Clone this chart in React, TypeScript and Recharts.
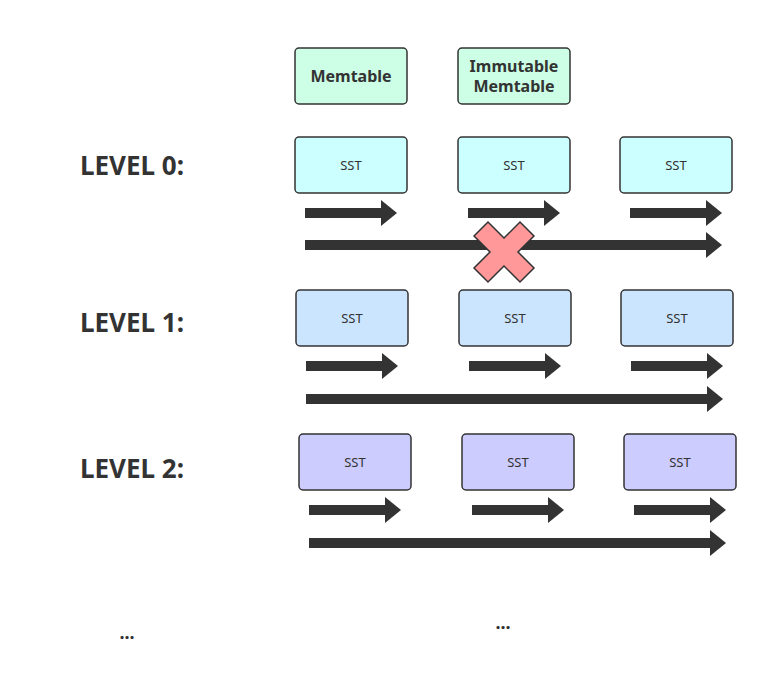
import React from 'react'
import { ComposedChart, XAxis, YAxis, ReferenceArea, ReferenceLine, ReferenceDot, Scatter } from 'recharts'

const W = 767
const H = 680
const INK = '#333333'

const levels = [
  { label: 'LEVEL 0:', y: 165 },
  { label: 'LEVEL 1:', y: 322 },
  { label: 'LEVEL 2:', y: 468 },
]

// boxes: label, left, right, top, bottom, fill, bold
const boxes = [
  { text: 'Memtable', x1: 295, x2: 407, y1: 48, y2: 104, fill: '#ccffe6', bold: true },
  { text: 'Immutable\nMemtable', x1: 458, x2: 570, y1: 48, y2: 104, fill: '#ccffe6', bold: true },
  { text: 'SST', x1: 295, x2: 407, y1: 137, y2: 193, fill: '#ccffff', bold: false },
  { text: 'SST', x1: 458, x2: 570, y1: 137, y2: 193, fill: '#ccffff', bold: false },
  { text: 'SST', x1: 620, x2: 732, y1: 137, y2: 193, fill: '#ccffff', bold: false },
  { text: 'SST', x1: 296, x2: 408, y1: 290, y2: 346, fill: '#cce5ff', bold: false },
  { text: 'SST', x1: 459, x2: 571, y1: 290, y2: 346, fill: '#cce5ff', bold: false },
  { text: 'SST', x1: 621, x2: 733, y1: 290, y2: 346, fill: '#cce5ff', bold: false },
  { text: 'SST', x1: 299, x2: 411, y1: 434, y2: 490, fill: '#ccccff', bold: false },
  { text: 'SST', x1: 462, x2: 574, y1: 434, y2: 490, fill: '#ccccff', bold: false },
  { text: 'SST', x1: 624, x2: 736, y1: 434, y2: 490, fill: '#ccccff', bold: false },
]

// arrows: start x, end x (tip), y
const arrows = [
  { x1: 305, x2: 397, y: 213 }, { x1: 468, x2: 560, y: 213 }, { x1: 630, x2: 722, y: 213 },
  { x1: 305, x2: 722, y: 245 },
  { x1: 306, x2: 398, y: 366 }, { x1: 469, x2: 561, y: 366 }, { x1: 631, x2: 723, y: 366 },
  { x1: 306, x2: 723, y: 399 },
  { x1: 309, x2: 401, y: 510 }, { x1: 472, x2: 564, y: 510 }, { x1: 634, x2: 726, y: 510 },
  { x1: 309, x2: 726, y: 543 },
]

const ellipses = [
  { x: 127, y: 632 },
  { x: 503, y: 622 },
]

const cross = { x: 504, y: 252 }

const HEAD = 16

function BoxShape(props: any, b: any) {
  const { x, y, width, height } = props
  const lines = b.text.split('\n')
  const cx = x + width / 2
  const cy = y + height / 2
  const lh = 20
  return (
    <g>
      <rect x={x} y={y} width={width} height={height} rx={4} fill={b.fill} stroke={INK} strokeWidth={1.5} />
      {lines.map((l: string, i: number) => (
        <text
          key={i}
          x={cx}
          y={cy + (i - (lines.length - 1) / 2) * lh}
          textAnchor="middle"
          dominantBaseline="central"
          fontFamily="'Noto Sans', sans-serif"
          fontWeight={b.bold ? 700 : 400}
          fontSize={b.bold ? 16 : 13}
          fill={INK}
        >
          {l}
        </text>
      ))}
    </g>
  )
}

function ArrowHead(props: any) {
  const { cx, cy } = props
  return <polygon points={`${cx},${cy} ${cx - HEAD},${cy - 13} ${cx - HEAD},${cy + 13}`} fill={INK} />
}

function CrossShape(props: any) {
  const { cx, cy } = props
  const s = 30
  const w = 14
  const pts = [
    [-s, -s + w], [-s + w, -s], [0, -w], [s - w, -s], [s, -s + w], [w, 0],
    [s, s - w], [s - w, s], [0, w], [-s + w, s], [-s, s - w], [-w, 0],
  ].map(([a, b]) => `${cx + a},${cy + b}`).join(' ')
  return <polygon points={pts} fill="#ff9999" stroke={INK} strokeWidth={1.5} />
}

function TextShape(text: string, size: number, anchor: 'start' | 'middle') {
  return (props: any) => (
    <text
      x={props.cx}
      y={props.cy}
      textAnchor={anchor}
      dominantBaseline="central"
      fontFamily="'Noto Sans', sans-serif"
      fontWeight={700}
      fontSize={size}
      fill={INK}
    >
      {text}
    </text>
  )
}

export default function App() {
  return (
    <div style={{ position: 'absolute', left: 0, top: 0, background: '#fff' }}>
      <ComposedChart width={W} height={H} margin={{ top: 0, right: 0, bottom: 0, left: 0 }}>
        <XAxis type="number" dataKey="x" domain={[0, W]} hide allowDataOverflow />
        <YAxis type="number" dataKey="y" domain={[0, H]} reversed hide allowDataOverflow />
        <Scatter data={[]} isAnimationActive={false} />
        {boxes.map((b, i) => (
          <ReferenceArea
            key={'b' + i}
            x1={b.x1}
            x2={b.x2}
            y1={b.y1}
            y2={b.y2}
            ifOverflow="visible"
            shape={(p: any) => BoxShape(p, b)}
          />
        ))}
        {arrows.map((a, i) => (
          <ReferenceLine
            key={'s' + i}
            segment={[{ x: a.x1, y: a.y }, { x: a.x2 - HEAD + 1, y: a.y }]}
            stroke={INK}
            strokeWidth={10}
            ifOverflow="visible"
          />
        ))}
        {arrows.map((a, i) => (
          <ReferenceDot key={'h' + i} x={a.x2} y={a.y} r={1} ifOverflow="visible" shape={ArrowHead} />
        ))}
        <ReferenceDot x={cross.x} y={cross.y} r={1} ifOverflow="visible" shape={CrossShape} />
        {levels.map((l, i) => (
          <ReferenceDot key={'l' + i} x={80} y={l.y} r={1} ifOverflow="visible" shape={TextShape(l.label, 26, 'start')} />
        ))}
        {ellipses.map((e, i) => (
          <ReferenceDot key={'e' + i} x={e.x} y={e.y} r={1} ifOverflow="visible" shape={TextShape('...', 18, 'middle')} />
        ))}
      </ComposedChart>
    </div>
  )
}
